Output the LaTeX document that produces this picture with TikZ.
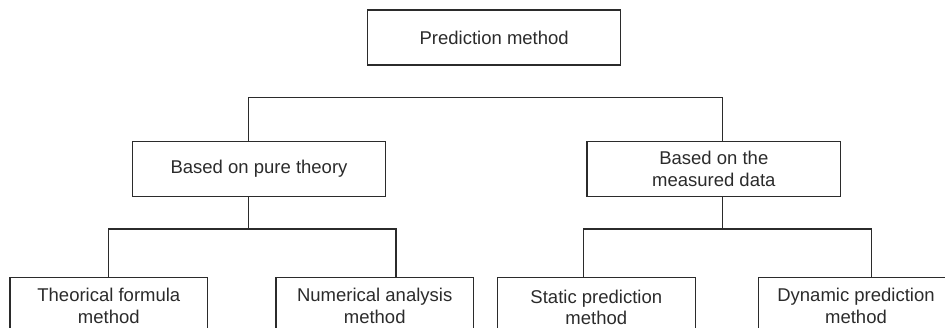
\documentclass[tikz,border=0pt]{standalone}
\usepackage{fontspec}
\setmainfont{Liberation Sans}
\definecolor{ink}{HTML}{2B2B2B}
\begin{document}
\begin{tikzpicture}[x=1pt,y=-1pt,
  box/.style={draw=ink, line width=1.3pt, text=ink, align=center, inner sep=0pt,
    font=\fontsize{18.5}{21.7}\selectfont},
  link/.style={draw=ink, line width=1.3pt}]
\useasboundingbox (0,0) rectangle (945,328);
\clip (0,0) rectangle (945,328);
% nodes
\node[box, minimum width=253pt, minimum height=55pt] (top) at (494.2,37.5) {Prediction method};
\node[box, minimum width=253.4pt, minimum height=55pt] (theory) at (259,168.8) {Based on pure theory};
\node[box, minimum width=253.7pt, minimum height=55pt] (data) at (713.8,168.8) {Based on the\\measured data};
\node[box, minimum width=197.7pt, minimum height=56.6pt] (formula) at (108.85,306) {Theorical formula\\method};
\node[box, minimum width=197.3pt, minimum height=56.6pt] (numer) at (374.7,306) {Numerical analysis\\method};
\node[box, minimum width=198pt, minimum height=59.6pt] (static) at (596.3,307.5) {Static prediction\\method};
\node[box, minimum width=195pt, minimum height=56.6pt] (dynamic) at (856,306) {Dynamic prediction\\method};
% junction coordinates
\coordinate (bl) at (248.3,97.5);
\coordinate (br) at (722.7,97.5);
\coordinate (ll) at (108.3,229);
\coordinate (lr) at (396,229);
\coordinate (rl) at (583.3,229);
\coordinate (rr) at (871.7,229);
% connectors
\draw[link] (theory.north -| bl) -- (bl) -- (br) -- (data.north -| br);
\draw[link] (theory.south -| bl) -- (bl |- ll);
\draw[link] (formula.north -| ll) -- (ll) -- (lr) -- (numer.north -| lr);
\draw[link] (data.south -| br) -- (br |- rl);
\draw[link] (static.north -| rl) -- (rl) -- (rr) -- (dynamic.north -| rr);
\end{tikzpicture}
\end{document}
